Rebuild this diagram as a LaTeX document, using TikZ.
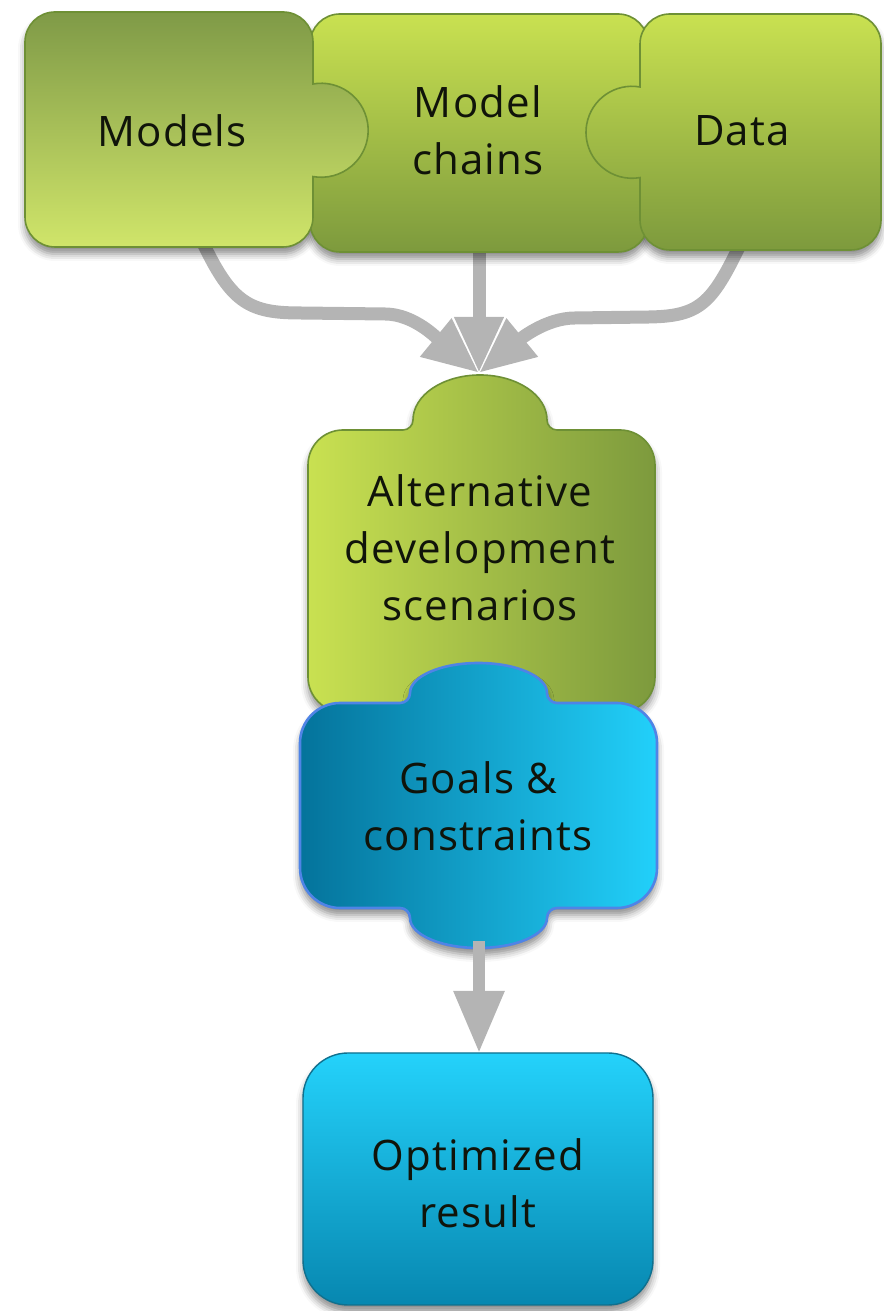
\documentclass[tikz,border=0pt]{standalone}
\usepackage{fontspec}
\setmainfont[LetterSpace=3]{Open Sans}
\usetikzlibrary{arrows.meta,shadows.blur}
\definecolor{gLight}{HTML}{C9E151}
\definecolor{gDark}{HTML}{7D9A3D}
\definecolor{gMtop}{HTML}{7F9A47}
\definecolor{gMbot}{HTML}{D0E56A}
\definecolor{gEdge}{HTML}{6E9035}
\definecolor{bDark}{HTML}{04739B}
\definecolor{bMid}{HTML}{02A9D6}
\definecolor{bLight}{HTML}{22D0FA}
\definecolor{bEdge}{HTML}{4F84E6}
\definecolor{oTop}{HTML}{24D2FB}
\definecolor{oBot}{HTML}{0787B0}
\definecolor{oEdge}{HTML}{10708E}
\definecolor{arrgray}{HTML}{B4B4B4}
\definecolor{txt}{HTML}{10140A}
\tikzset{
  shad/.style={blur shadow={shadow xshift=0pt,shadow yshift=-7pt,shadow blur radius=7pt,shadow opacity=45}},
  greenedge/.style={draw=gEdge,line width=1.6pt},
  label/.style={font=\fontsize{42}{57}\selectfont,align=center,text=txt,inner sep=0pt},
  flow/.style={draw=arrgray,line width=13pt,-{Triangle[width=46pt,length=56pt]}},
}
\def\modelsoutline{(25,1094) -- (25,1269) arc[start angle=180,end angle=90,radius=30]
  -- (283,1299) arc[start angle=90,end angle=0,radius=30]
  -- (313,1227) arc[start angle=100,end angle=-100,radius=47]
  -- (313,1094) arc[start angle=0,end angle=-90,radius=30]
  -- (55,1064) arc[start angle=270,end angle=180,radius=30] -- cycle}
\def\dataoutline{(881,1091) -- (881,1267) arc[start angle=0,end angle=90,radius=30]
  -- (670,1297) arc[start angle=90,end angle=180,radius=30]
  -- (640,1224) arc[start angle=80,end angle=280,radius=46]
  -- (640,1091) arc[start angle=180,end angle=270,radius=30]
  -- (851,1061) arc[start angle=270,end angle=360,radius=30] -- cycle}
\begin{document}
\begin{tikzpicture}[x=1pt,y=1pt]
\useasboundingbox (0,0) rectangle (883,1311);
% arrow coordinates
\coordinate (sL) at (204,1066);
\coordinate (sM) at (479,1066);
\coordinate (sR) at (740,1066);
\coordinate (tip) at (479,938);
\coordinate (sG) at (479,370);
\coordinate (tO) at (479,258);
% arrows into scenarios
\draw[flow] (sL) .. controls (232,1008) and (250,998) .. (300,998) -- (385,997) .. controls (415,997) and (440,970) .. (tip);
\draw[flow] (sR) .. controls (712,1008) and (700,995) .. (650,994) -- (575,993) .. controls (545,993) and (518,970) .. (tip);
\draw[flow] (sM) -- (tip);
% shadows of the side pieces
\path[shad] \modelsoutline;
\path[shad] \dataoutline;
% model chains
\path[shad,top color=gLight,bottom color=gDark,greenedge,rounded corners=30pt] (310,1059) rectangle (648,1297);
% models
\path[top color=gMtop,bottom color=gMbot,greenedge] \modelsoutline;
% data
\path[top color=gLight,bottom color=gDark,greenedge] \dataoutline;
\node[label] (models) at (172,1180) {Models};
\node[label] (chains) at (478,1181) {Model\\chains};
\node[label] (data) at (742,1180) {Data};
% alternative scenarios
\path[shad,left color=gLight,right color=gDark,greenedge]
  (308,634) -- (308,846) arc[start angle=180,end angle=90,radius=35]
  -- (403,881) arc[start angle=-90,end angle=0,radius=10]
  arc[start angle=180,end angle=0,x radius=67,y radius=45]
  arc[start angle=180,end angle=270,radius=10]
  -- (620,881) arc[start angle=90,end angle=0,radius=35]
  -- (655,634) arc[start angle=0,end angle=-90,radius=35]
  -- (343,599) arc[start angle=270,end angle=180,radius=35] -- cycle;
\node[label] (alt) at (480,763) {Alternative\\development\\scenarios};
% goals & constraints
\path[shad,left color=bDark,middle color=bMid,right color=bLight,draw=bEdge,line width=2.6pt]
  (300,443) -- (300,568) arc[start angle=180,end angle=90,radius=40]
  -- (400,608) arc[start angle=-90,end angle=0,radius=10]
  arc[start angle=180,end angle=0,x radius=68.5,y radius=30]
  arc[start angle=180,end angle=270,radius=10]
  -- (617,608) arc[start angle=90,end angle=0,radius=40]
  -- (657,443) arc[start angle=0,end angle=-90,radius=40]
  -- (557,403) arc[start angle=90,end angle=180,radius=10]
  arc[start angle=0,end angle=-180,x radius=68.5,y radius=30]
  arc[start angle=0,end angle=90,radius=10]
  -- (340,403) arc[start angle=270,end angle=180,radius=40] -- cycle;
\node[label] (goals) at (478,505) {Goals \&\\constraints};
% arrow to result
\draw[flow,line width=12pt,-{Triangle[width=48pt,length=62pt]}] (sG) -- (tO);
% optimized result
\path[shad,top color=oTop,bottom color=oBot,draw=oEdge,line width=1.4pt,rounded corners=45pt] (303,6) rectangle (653,258);
\node[label] (opt) at (478,128) {Optimized\\result};
\end{tikzpicture}
\end{document}
